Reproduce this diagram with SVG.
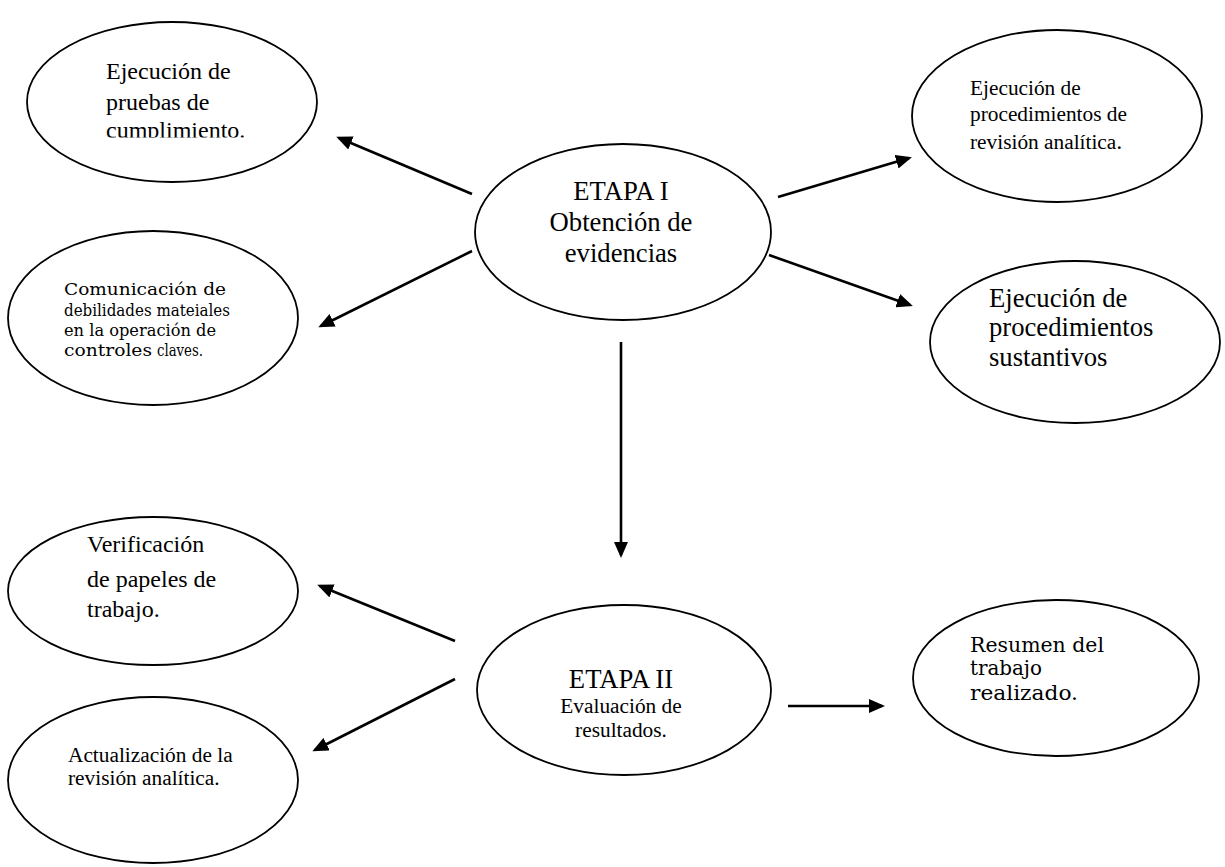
<svg xmlns="http://www.w3.org/2000/svg" width="1225" height="867" viewBox="0 0 1225 867">
<style>
.node ellipse{fill:#fff;stroke:#000;stroke-width:1.8}
.t{font-family:"Liberation Serif","Times New Roman",serif;fill:#000}
.b{font-family:"DejaVu Serif","Liberation Serif",serif;fill:#000}
.c{text-anchor:middle}
.conn line{stroke:#000;stroke-width:2.6;marker-end:url(#ah)}
</style>
<defs>
<marker id="ah" markerUnits="userSpaceOnUse" markerWidth="16" markerHeight="14" refX="13" refY="7" orient="auto">
<path d="M0,0 L16,7 L0,14 z" fill="#000"/>
</marker>
<clipPath id="clip1"><rect x="0" y="0" width="400" height="137.5"/></clipPath>
</defs>
<rect width="1225" height="867" fill="#fff"/>
<g id="n1" class="node">
<ellipse cx="172" cy="102" rx="145" ry="80"/>
<g class="t" font-size="24" clip-path="url(#clip1)">
<text x="106" y="79">Ejecución de</text>
<text x="106" y="110">pruebas de</text>
<text x="106" y="138">cumplimiento.</text>
</g>
</g>
<g id="n2" class="node">
<ellipse cx="623" cy="232" rx="148" ry="88"/>
<text class="t c" x="621" y="200" font-size="26.67">ETAPA I</text>
<text class="t c" x="621" y="231" font-size="26.67">Obtención de</text>
<text class="t c" x="621" y="262" font-size="26.67">evidencias</text>
</g>
<g id="n3" class="node">
<ellipse cx="1057" cy="116" rx="145" ry="86"/>
<text class="t" x="970" y="95" font-size="21.33">Ejecución de</text>
<text class="t" x="970" y="121" font-size="21.33">procedimientos de</text>
<text class="t" x="970" y="149" font-size="21.33">revisión analítica<tspan font-size="24">.</tspan></text>
</g>
<g id="n4" class="node">
<ellipse cx="153" cy="318" rx="145" ry="87"/>
<text class="b" x="64" y="295" font-size="16" textLength="162" lengthAdjust="spacingAndGlyphs">Comunicación de</text>
<text class="b" x="64" y="316" font-size="16" textLength="166" lengthAdjust="spacingAndGlyphs">debilidades mateiales</text>
<text class="b" x="64" y="336" font-size="16" textLength="152" lengthAdjust="spacingAndGlyphs">en la operación de</text>
<text class="b" x="64" y="356" font-size="16" textLength="88" lengthAdjust="spacingAndGlyphs">controles</text>
<text class="b" x="157" y="356" font-size="16" textLength="46" lengthAdjust="spacingAndGlyphs">claves.</text>
</g>
<g id="n5" class="node">
<ellipse cx="1075" cy="342" rx="145" ry="81"/>
<text class="t" x="989" y="307" font-size="26.67">Ejecución de</text>
<text class="t" x="989" y="336" font-size="26.67">procedimientos</text>
<text class="t" x="989" y="366" font-size="26.67">sustantivos</text>
</g>
<g id="n6" class="node">
<ellipse cx="153" cy="591" rx="145" ry="74"/>
<text class="t" x="87" y="552" font-size="24">Verificación</text>
<text class="t" x="87" y="587" font-size="24">de papeles de</text>
<text class="t" x="87" y="617" font-size="24">trabajo.</text>
</g>
<g id="n7" class="node">
<ellipse cx="624" cy="690" rx="147" ry="85"/>
<text class="t c" x="621" y="688" font-size="26.67">ETAPA II</text>
<text class="t c" x="621" y="713" font-size="21.33">Evaluación de</text>
<text class="t c" x="621" y="737" font-size="21.33">resultados.</text>
</g>
<g id="n8" class="node">
<ellipse cx="1056" cy="678" rx="143" ry="78"/>
<text class="b" x="970" y="652" font-size="19.5" textLength="134" lengthAdjust="spacingAndGlyphs">Resumen del</text>
<text class="b" x="970" y="675" font-size="19.5" textLength="72" lengthAdjust="spacingAndGlyphs">trabajo</text>
<text class="b" x="970" y="700" font-size="19.5" textLength="108" lengthAdjust="spacingAndGlyphs">realizado.</text>
</g>
<g id="n9" class="node">
<ellipse cx="153" cy="780" rx="145" ry="83"/>
<text class="t" x="68" y="762" font-size="21.33">Actualización de la</text>
<text class="t" x="68" y="785" font-size="21.33">revisión analítica.</text>
</g>
<g id="connectors" class="conn">
<line x1="472" y1="194" x2="339" y2="138"/>
<line x1="472" y1="251" x2="321" y2="326"/>
<line x1="778" y1="197" x2="909" y2="158"/>
<line x1="769" y1="255" x2="910" y2="305"/>
<line x1="621" y1="342" x2="621" y2="555"/>
<line x1="455" y1="641" x2="320" y2="586"/>
<line x1="455" y1="679" x2="315" y2="750"/>
<line x1="788" y1="706" x2="882" y2="706"/>
</g>
</svg>
